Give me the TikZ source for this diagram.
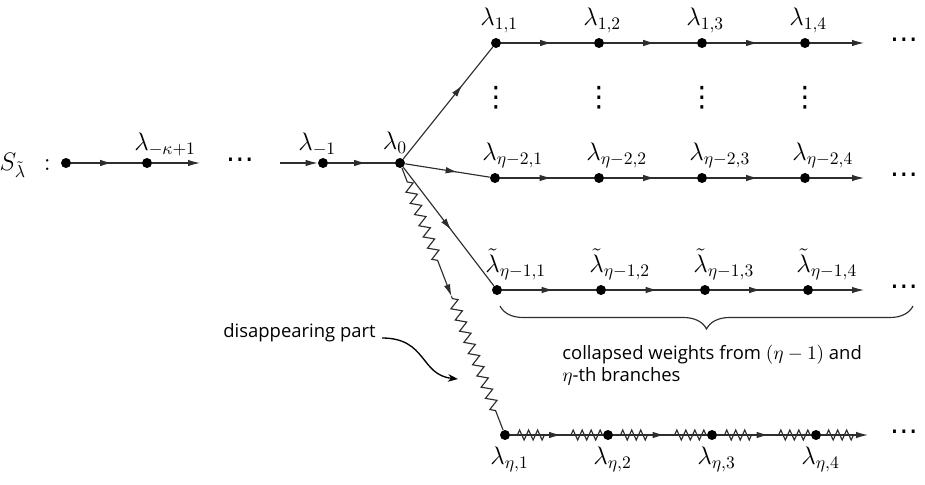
\documentclass[tikz,border=0pt]{standalone}
\usepackage{amsmath,amssymb}
\usepackage{fontspec}
\setmainfont{Open Sans}
\newfontfamily\symfont{DejaVu Sans}
\usepackage{tikz}
\usetikzlibrary{arrows.meta,positioning,calc,decorations.pathmorphing,decorations.pathreplacing,decorations.markings}
\definecolor{lngray}{RGB}{45,45,45}
\tikzset{
  wt/.style={circle, fill=black, inner sep=0pt, minimum size=0.2cm},
  lbl/.style={inner sep=0pt, font=\fontsize{14.4}{17}\selectfont},
  dotsym/.style={inner sep=0pt, font=\symfont\fontsize{16}{18}\selectfont},
  txt/.style={inner sep=0pt, align=left, font=\fontsize{10.5}{12.5}\selectfont},
  lnk/.style={lngray, line width=0.65pt},
  arrmid/.style={lnk, postaction={decorate}, decoration={markings,
      mark=at position #1 with {\arrow{Latex[length=2.4mm,width=1.3mm]}}}},
  arrmid/.default=0.55,
  arrend/.style={lnk, -{Latex[length=2.4mm,width=1.3mm]}},
  zig/.style={lnk, decorate, decoration={zigzag, amplitude=0.1cm, segment length=#1}},
  zig/.default=0.18cm,
  brc/.style={lnk, decorate, decoration={brace, mirror, amplitude=0.46cm}},
  curv/.style={black, line width=0.75pt, -{Stealth[length=2mm,width=1.5mm]}},
}

\begin{document}
\begin{tikzpicture}[x=0.02cm, y=-0.02cm]
  \useasboundingbox (0,0) rectangle (925,484);
  % left chain
  \node[wt] (s0) at (66,163) {};
  \node[wt] (sk) at (147,163) {};
  \node[wt] (sm1) at (323,163) {};
  \node[wt] (l0) at (400,163) {};
  \coordinate (ske) at (200,163);
  \coordinate (sms) at (280,163);
  \node[lbl, anchor=base east] (slab) at (51,170) {$S_{\tilde{\lambda}}\ \,:$};
  \node[lbl, anchor=south west] (lk) at (134,156) {$\lambda_{-\kappa+1}$};
  \node[lbl, anchor=south west] (lm1) at (298,156) {$\lambda_{-1}$};
  \node[lbl, anchor=south] (l0lab) at (395,154) {$\lambda_0$};
  \node[dotsym] (ldots) at (240,163) {⋯};
  \draw[arrmid=0.58] (s0) -- (sk);
  \draw[arrend] (sk) -- (ske);
  \draw[arrend] (sms) -- (sm1);
  \draw[arrmid=0.57] (sm1) -- (l0);
  % branch rows
  \foreach \n/\x in {1/496,2/599,3/702,4/805}{
    \node[wt] (a\n) at (\x,43) {};
    \node[lbl, anchor=south west] (la\n) at ($(a\n)+(-16,-10)$) {$\lambda_{1,\n}$};
    \node[dotsym] (v\n) at (\x,98) {⋮};
  }
  \foreach \n/\x in {1/495,2/599,3/702,4/805}{
    \node[wt] (b\n) at (\x,178) {};
    \node[lbl, anchor=south west] (lb\n) at ($(b\n)+(-13,-10)$) {$\lambda_{\eta-2,\n}$};
  }
  \foreach \n/\x in {1/497,2/601,3/705,4/808}{
    \node[wt] (c\n) at (\x,290) {};
    \node[lbl, anchor=south west] (lc\n) at ($(c\n)+(-12,-10)$) {$\tilde{\lambda}_{\eta-1,\n}$};
  }
  \foreach \n/\x in {1/505,2/608,3/712,4/816}{
    \node[wt] (d\n) at (\x,435) {};
    \node[lbl, anchor=north west] (ld\n) at ($(d\n)+(-15,12)$) {$\lambda_{\eta,\n}$};
  }
  \coordinate (ae) at (864,43);
  \coordinate (be) at (864,178);
  \coordinate (ce) at (864,290);
  \coordinate (de) at (868,435);
  \foreach \r/\y in {a/43,b/178,c/290,d/435}{
    \node[dotsym] (\r dots) at (904,\y) {⋯};
  }
  \foreach \p/\q in {1/2,2/3,3/4}{
    \draw[arrmid] (a\p) -- (a\q);
    \draw[arrmid] (b\p) -- (b\q);
    \draw[arrmid] (c\p) -- (c\q);
    \draw[arrmid] (d\p) -- (d\q);
    \draw[zig] ($(d\p)!0.12!(d\q)$) -- ($(d\p)!0.4!(d\q)$);
    \draw[zig] ($(d\p)!0.64!(d\q)$) -- ($(d\p)!0.95!(d\q)$);
  }
  \draw[arrend] (a4) -- (ae);
  \draw[arrend] (b4) -- (be);
  \draw[arrend] (c4) -- (ce);
  \draw[arrend] (d4) -- (de);
  \draw[zig] ($(d4)!0.2!(de)$) -- ($(d4)!0.72!(de)$);
  % fan out of lambda_0
  \draw[arrmid=0.66] (l0) -- (a1);
  \draw[arrmid=0.62] (l0) -- (b1);
  \draw[arrmid=0.53] (l0) -- (c1);
  \coordinate (dm) at ($(l0)!0.49!(d1)$);
  \draw[zig=0.24cm, decoration={pre length=0.3cm, post length=0.7cm}, arrend] (l0) -- (dm);
  \draw[zig=0.24cm, decoration={pre length=0.05cm, post length=0.34cm}] (dm) -- (d1);
  % brace and notes
  \coordinate (bl) at (500,306);
  \coordinate (br) at (913,306);
  \draw[brc] (bl) -- (br);
  \node[txt, anchor=north west] (btxt) at (562,345) {collapsed weights from $(\eta-1)$ and\\$\eta$-th branches};
  \node[txt, anchor=east] (dp) at (376,333) {disappearing part};
  \coordinate (dpt) at (458,379);
  \draw[curv] ($(dp.east)+(6,5)$) .. controls +(45,0) and +(-38,-4) .. (dpt);
\end{tikzpicture}
\end{document}
